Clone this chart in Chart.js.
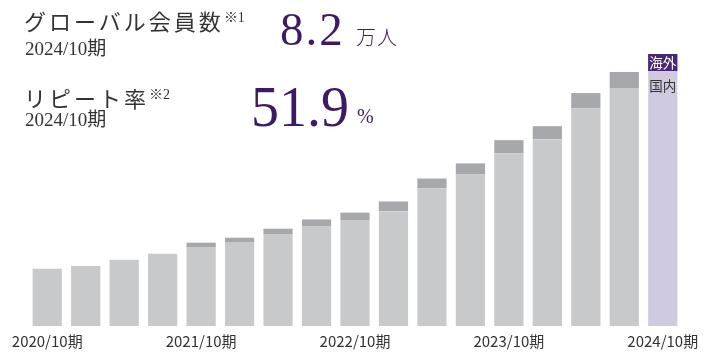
<!DOCTYPE html>
<html lang="ja">
<head>
<meta charset="utf-8">
<script src="https://cdn.jsdelivr.net/npm/chart.js@4/dist/chart.umd.min.js"></script>
<style>
  body { margin: 0; background: #fff; }
  #wrap { position: relative; width: 707px; height: 356px; overflow: hidden; }
  #wrap canvas { position: absolute; left: 0; top: 0; }
  .kpi { position: absolute; color: #333; white-space: nowrap; }
  .title { font-family: "Noto Sans CJK JP", sans-serif; font-weight: 400; font-size: 22px; letter-spacing: 3px; line-height: 1; }
  .title sup { font-family: "Liberation Serif", serif; font-size: 14px; letter-spacing: 0; vertical-align: 8px; }
  .period { font-family: "Liberation Serif", "Noto Sans CJK JP", serif; font-size: 19px; line-height: 1; }
  .value { color: #3d1a64; font-family: "Liberation Serif", serif; line-height: 1; }
  .unit { color: #3d1a64; font-family: "Noto Sans CJK JP", sans-serif; font-weight: 300; font-size: 20px; line-height: 1; }
</style>
</head>
<body>
<div id="wrap">
  <canvas id="memberChart" width="707" height="356"></canvas>
  <div class="kpi title" style="left:24px; top:9px;">グローバル会員数<sup>※1</sup></div>
  <div class="kpi period" style="left:25px; top:39px;">2024/10期</div>
  <div class="kpi value" style="left:280px; top:6px; font-size:47px; letter-spacing:2px;">8.2</div>
  <div class="kpi unit" style="left:356px; top:27px; letter-spacing:1px;">万人</div>

  <div class="kpi title" style="left:24px; top:86px;">リピート率<sup>※2</sup></div>
  <div class="kpi period" style="left:25px; top:110px;">2024/10期</div>
  <div class="kpi value" style="left:251px; top:79px; font-size:56px; letter-spacing:0;">51.9</div>
  <div class="kpi unit" style="left:357px; top:106px; font-family:'Liberation Serif', serif;">%</div>
</div>

<script>
// quarterly periods, only the October ones get a tick label
const periods = [
  "2020/10期", "2021/01期", "2021/04期", "2021/07期",
  "2021/10期", "2022/01期", "2022/04期", "2022/07期",
  "2022/10期", "2023/01期", "2023/04期", "2023/07期",
  "2023/10期", "2024/01期", "2024/04期", "2024/07期",
  "2024/10期"
];

// members, 万人
const domestic = [1.85, 1.94, 2.14, 2.33, 2.53, 2.69, 2.95, 3.21, 3.40, 3.70, 4.44, 4.89, 5.57, 6.03, 7.03, 7.68, null];
const overseas = [0, 0, 0, 0, 0.16, 0.16, 0.19, 0.23, 0.26, 0.32, 0.32, 0.36, 0.43, 0.42, 0.49, 0.52, null];

// last column is a legend band drawn full height
const axisMax = 8.78;
const legendBand = [null, null, null, null, null, null, null, null, null, null, null, null, null, null, null, null, axisMax];
const legendLabels = ["海外", "国内"];

const COLORS = {
  domestic: "#c8c9cb",
  overseas: "#a7a8ab",
  band: "#cfcadf",
  purple: "#4a2776",
  text: "#333333"
};

// --- legend labels on the band column ---
const legendColumn = {
  id: "legendColumn",
  afterDatasetsDraw(chart) {
    const ctx = chart.ctx;
    const bar = chart.getDatasetMeta(2).data[periods.length - 1];
    if (!bar) return;
    const { x, y, width } = bar.getProps(["x", "y", "width"], true);
    ctx.save();
    ctx.fillStyle = COLORS.purple;
    ctx.fillRect(x - width / 2, y, width, 17);
    ctx.font = "13.5px 'Noto Sans CJK JP', sans-serif";
    ctx.textAlign = "center";
    ctx.textBaseline = "middle";
    ctx.fillStyle = "#ffffff";
    ctx.fillText(legendLabels[0], x, y + 8.5);
    ctx.fillStyle = COLORS.text;
    ctx.fillText(legendLabels[1], x, y + 32);
    ctx.restore();
  }
};

const ctx = document.getElementById("memberChart").getContext("2d");
new Chart(ctx, {
  type: "bar",
  data: {
    labels: periods,
    datasets: [
      { label: "国内", data: domestic, backgroundColor: COLORS.domestic },
      { label: "海外", data: overseas, backgroundColor: COLORS.overseas },
      { label: "凡例", data: legendBand, backgroundColor: COLORS.band }
    ]
  },
  options: {
    responsive: false,
    animation: false,
    devicePixelRatio: 1,
    layout: { padding: { left: 28, right: 25, top: 54, bottom: 0 } },
    datasets: { bar: { barPercentage: 0.76, categoryPercentage: 1 } },
    plugins: { legend: { display: false }, tooltip: { enabled: false } },
    scales: {
      x: {
        stacked: true,
        grid: { display: false, drawTicks: false },
        border: { display: false },
        ticks: {
          autoSkip: false,
          maxRotation: 0,
          padding: 6,
          color: COLORS.text,
          font: { family: "'Noto Sans CJK JP', sans-serif", size: 15 },
          callback: function (value) {
            const label = this.getLabelForValue(value);
            return label.endsWith("/10期") ? label : "";
          }
        }
      },
      y: {
        stacked: true,
        display: false,
        min: 0,
        max: axisMax
      }
    }
  },
  plugins: [legendColumn]
});
</script>
</body>
</html>
